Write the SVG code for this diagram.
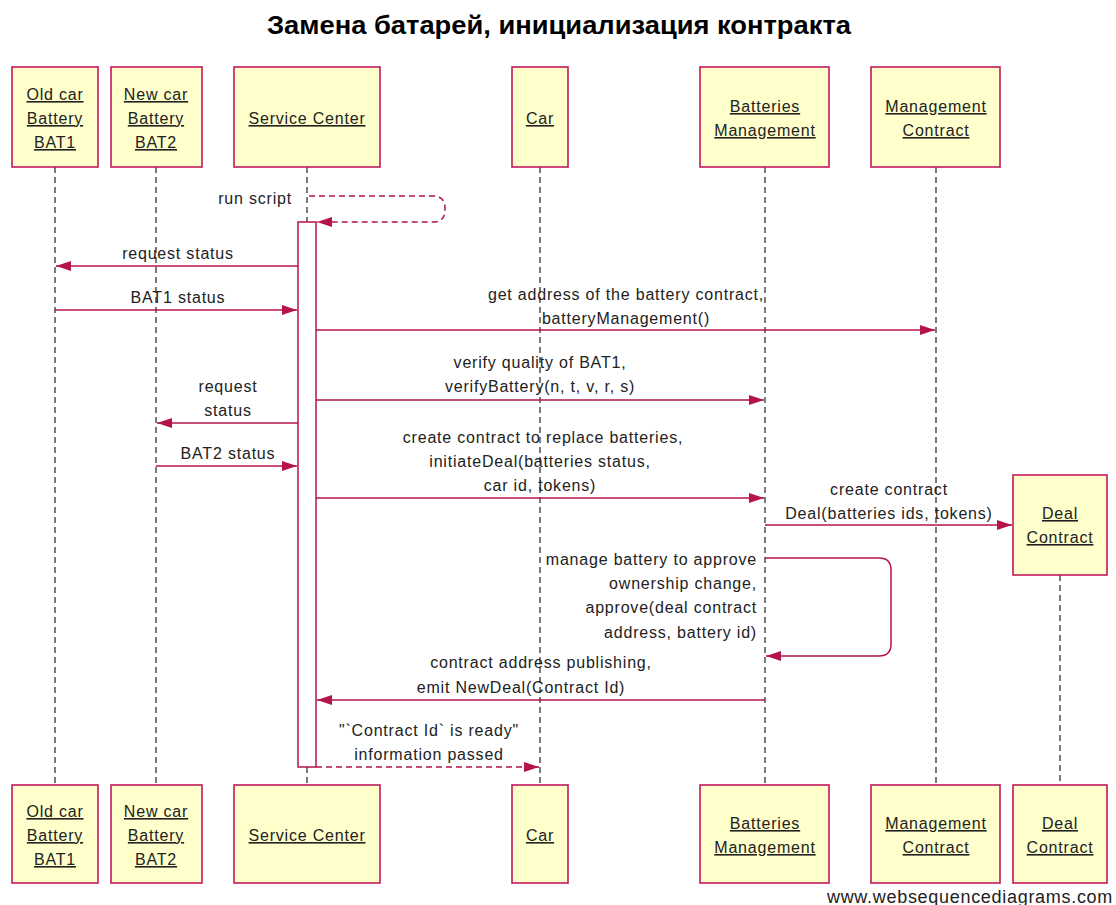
<svg xmlns="http://www.w3.org/2000/svg" width="1116" height="905" viewBox="0 0 1116 905">
<style>
text{font-family:"Liberation Sans",Arial,sans-serif;font-size:16px;letter-spacing:0.8px;fill:#222}
.t{font-size:26px;font-weight:bold;letter-spacing:0;fill:#000}
.box{fill:#FFFFCC;stroke:#C2185B;stroke-width:1.6}
.bl{text-decoration:underline;text-anchor:middle}
.life{stroke:#222;stroke-width:1.2;stroke-dasharray:6,4;fill:none}
.msg{stroke:#B5134B;stroke-width:1.5;fill:none}
.dash{stroke-dasharray:6,4}
.c{text-anchor:middle}
.r{text-anchor:end}
.wm{font-size:18px;letter-spacing:0.7px;fill:#222}
</style>
<defs>
<marker id="ah" markerUnits="userSpaceOnUse" markerWidth="16" markerHeight="12" refX="15" refY="5" orient="auto">
<path d="M0,0 L15,5 L0,10 z" fill="#B5134B"/>
</marker>
</defs>
<rect width="1116" height="905" fill="#fff"/>
<text class="t c" x="559" y="34" textLength="584" lengthAdjust="spacingAndGlyphs">Замена батарей, инициализация контракта</text>

<g id="lifelines">
<line class="life" x1="55" y1="167" x2="55" y2="785"/>
<line class="life" x1="156" y1="167" x2="156" y2="785"/>
<line class="life" x1="307" y1="167" x2="307" y2="785"/>
<line class="life" x1="540" y1="167" x2="540" y2="785"/>
<line class="life" x1="765" y1="167" x2="765" y2="785"/>
<line class="life" x1="936" y1="167" x2="936" y2="785"/>
<line class="life" x1="1060" y1="575" x2="1060" y2="785"/>
</g>

<g id="activation">
<rect x="298" y="222" width="18" height="545" fill="#fff" stroke="#B5134B" stroke-width="1.5"/>
</g>

<g id="bat1">
<rect class="box" x="12" y="67" width="86" height="100"/>
<text class="bl" x="55" y="100">Old car</text>
<text class="bl" x="55" y="124">Battery</text>
<text class="bl" x="55" y="148">BAT1</text>
<rect class="box" x="12" y="785" width="86" height="98"/>
<text class="bl" x="55" y="817">Old car</text>
<text class="bl" x="55" y="841">Battery</text>
<text class="bl" x="55" y="865">BAT1</text>
</g>
<g id="bat2">
<rect class="box" x="111" y="67" width="91" height="100"/>
<text class="bl" x="156" y="100">New car</text>
<text class="bl" x="156" y="124">Battery</text>
<text class="bl" x="156" y="148">BAT2</text>
<rect class="box" x="111" y="785" width="91" height="98"/>
<text class="bl" x="156" y="817">New car</text>
<text class="bl" x="156" y="841">Battery</text>
<text class="bl" x="156" y="865">BAT2</text>
</g>
<g id="service-center">
<rect class="box" x="234" y="67" width="146" height="100"/>
<text class="bl" x="307" y="124">Service Center</text>
<rect class="box" x="234" y="785" width="146" height="98"/>
<text class="bl" x="307" y="841">Service Center</text>
</g>
<g id="car">
<rect class="box" x="512" y="67" width="56" height="100"/>
<text class="bl" x="540" y="124">Car</text>
<rect class="box" x="512" y="785" width="56" height="98"/>
<text class="bl" x="540" y="841">Car</text>
</g>
<g id="batteries-management">
<rect class="box" x="700" y="67" width="129" height="100"/>
<text class="bl" x="765" y="112">Batteries</text>
<text class="bl" x="765" y="136">Management</text>
<rect class="box" x="700" y="785" width="129" height="98"/>
<text class="bl" x="765" y="829">Batteries</text>
<text class="bl" x="765" y="853">Management</text>
</g>
<g id="management-contract">
<rect class="box" x="871" y="67" width="129" height="100"/>
<text class="bl" x="936" y="112">Management</text>
<text class="bl" x="936" y="136">Contract</text>
<rect class="box" x="871" y="785" width="129" height="98"/>
<text class="bl" x="936" y="829">Management</text>
<text class="bl" x="936" y="853">Contract</text>
</g>
<g id="deal-contract">
<rect class="box" x="1013" y="475" width="94" height="100"/>
<text class="bl" x="1060" y="519">Deal</text>
<text class="bl" x="1060" y="543">Contract</text>
<rect class="box" x="1013" y="785" width="94" height="98"/>
<text class="bl" x="1060" y="829">Deal</text>
<text class="bl" x="1060" y="853">Contract</text>
</g>

<g id="connectors">
<path class="msg dash" d="M309,196 H433 Q445,196 445,208 V210 Q445,222 433,222 H317" marker-end="url(#ah)"/>
<text class="r" x="292" y="204">run script</text>

<line class="msg" x1="298" y1="266" x2="56" y2="266" marker-end="url(#ah)"/>
<text class="c" x="178" y="259">request status</text>

<line class="msg" x1="55" y1="310" x2="297" y2="310" marker-end="url(#ah)"/>
<text class="c" x="178" y="303">BAT1 status</text>

<line class="msg" x1="316" y1="330" x2="935" y2="330" marker-end="url(#ah)"/>
<text class="c" x="626" y="300">get address of the battery contract,</text>
<text class="c" x="626" y="324">batteryManagement()</text>

<line class="msg" x1="316" y1="400" x2="764" y2="400" marker-end="url(#ah)"/>
<text class="c" x="540" y="368">verify quality of BAT1,</text>
<text class="c" x="540" y="392">verifyBattery(n, t, v, r, s)</text>

<line class="msg" x1="298" y1="423" x2="157" y2="423" marker-end="url(#ah)"/>
<text class="c" x="228" y="392">request</text>
<text class="c" x="228" y="416">status</text>

<line class="msg" x1="156" y1="466" x2="297" y2="466" marker-end="url(#ah)"/>
<text class="c" x="228" y="459">BAT2 status</text>

<line class="msg" x1="316" y1="498" x2="764" y2="498" marker-end="url(#ah)"/>
<text class="c" x="543" y="443">create contract to replace batteries,</text>
<text class="c" x="540" y="467">initiateDeal(batteries status,</text>
<text class="c" x="540" y="491">car id, tokens)</text>

<line class="msg" x1="765" y1="525" x2="1012" y2="525" marker-end="url(#ah)"/>
<text class="c" x="889" y="495">create contract</text>
<text class="c" x="889" y="519">Deal(batteries ids, tokens)</text>

<path class="msg" d="M765,558 H879 Q891,558 891,570 V644 Q891,656 879,656 H766" marker-end="url(#ah)"/>
<text class="r" x="757" y="565">manage battery to approve</text>
<text class="r" x="757" y="589">ownership change,</text>
<text class="r" x="757" y="613">approve(deal contract</text>
<text class="r" x="757" y="638">address, battery id)</text>

<line class="msg" x1="765" y1="700" x2="317" y2="700" marker-end="url(#ah)"/>
<text class="c" x="541" y="668">contract address publishing,</text>
<text class="c" x="521" y="693">emit NewDeal(Contract Id)</text>

<line class="msg dash" x1="316" y1="767" x2="539" y2="767" marker-end="url(#ah)"/>
<text class="c" x="429" y="736">"`Contract Id` is ready"</text>
<text class="c" x="429" y="760">information passed</text>
</g>

<text class="wm r" x="1113" y="903">www.websequencediagrams.com</text>
</svg>
